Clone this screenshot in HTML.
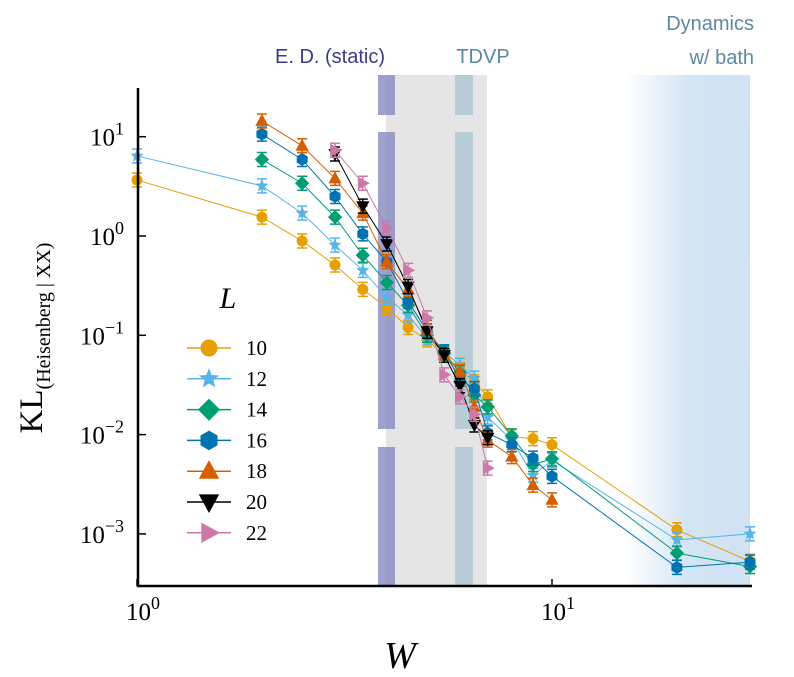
<!DOCTYPE html>
<html><head><meta charset="utf-8"><style>
body{margin:0;background:#fff}
svg{display:block}
.serif{font-family:"Liberation Serif",serif}
.sans{font-family:"Liberation Sans",sans-serif}
</style></head><body>
<svg id="c" width="794" height="677" viewBox="0 0 794 677" xmlns="http://www.w3.org/2000/svg">
<defs>
<linearGradient id="bathg" x1="0" x2="1" y1="0" y2="0">
<stop offset="0" stop-color="#cfe2f3" stop-opacity="0"/>
<stop offset="0.5" stop-color="#cfe2f3" stop-opacity="0.9"/>
<stop offset="1" stop-color="#cfe2f3" stop-opacity="1"/>
</linearGradient>
</defs>
<g id="bg"></g>
<g id="series"></g>
<g id="axes"></g>
<g id="legend"></g>
</svg>
<script>
const NS="http://www.w3.org/2000/svg";
const Ws=[1,2,2.5,3,3.5,4,4.5,5,5.5,6,6.5,7,8,9,10,20,30];
const sizes=[10,12,14,16,18,20,22];
const L10=[3.66,1.55,0.89,0.51,0.29,0.19,0.12,0.09,0.063,0.045,0.034,0.024,0.0095,0.0091,0.0079,0.0011,0.00053];
const L12=[6.4,3.2,1.7,0.81,0.45,0.24,0.16,0.094,0.068,0.05,0.037,0.015,0.0088,0.0039,0.0055,0.00087,0.001];
const L14=[null,5.9,3.4,1.55,0.64,0.34,0.2,0.1,0.066,0.042,0.025,0.019,0.0097,0.005,0.0057,0.00064,0.00047];
const L16=[null,10.6,5.9,2.5,1.05,0.55,0.22,0.11,0.068,0.036,0.029,0.0104,0.0079,0.0058,0.0038,0.00046,0.00052];
const L18=[null,14.4,8.1,3.8,1.7,0.55,0.29,0.12,0.063,0.043,0.019,0.0088,0.006,0.0031,0.0022,null,null];
const L20=[null,null,null,6.7,2.0,0.83,0.31,0.11,0.063,0.031,0.0125,0.0093,null,null,null,null,null];
const L22=[null,null,null,7.3,3.4,1.2,0.45,0.15,0.04,0.024,0.016,0.0046,null,null,null,null,null];
const seriesVals=[L10,L12,L14,L16,L18,L20,L22];
const colors=["#e69f00","#56b4e9","#009e73","#0072b2","#d55e00","#000000","#cc79a7"];
const shapes=["circle","star","diamond","hexagon","up","down","right"];
const yTicks=[10,1,0.1,0.01,0.001];
const yTickLabels=["1","0","−1","−2","−3"];
const xTicks=[1,10];
const xTickLabels=["0","1"];

const X0=137,XD=415,Y0=236,YD=99.3;
const xs=w=>X0+Math.log10(w)*XD;
const ys=v=>Y0-Math.log10(v)*YD;
function el(tag,attrs,parent){const e=document.createElementNS(NS,tag);for(const k in attrs)e.setAttribute(k,attrs[k]);parent.appendChild(e);return e;}
const bg=document.getElementById('bg'),sg=document.getElementById('series'),ax=document.getElementById('axes'),lg=document.getElementById('legend');

let r;
r=el('rect',{x:386,y:75,width:101,height:511,fill:'#e5e5e5'},bg);

r=el('rect',{x:625,y:75,width:125,height:511,fill:'url(#bathg)'},bg);

[[75,115],[132,429],[447,586]].forEach(([a,b])=>{
 let p=el('rect',{x:378,y:a,width:17,height:b-a,fill:'#8d8fc4',opacity:0.85},bg);
 
 let q=el('rect',{x:455,y:a,width:18,height:b-a,fill:'#b8ccd6'},bg);
 
});
function txt(s,a,parent,cls){const t=el('text',a,parent);if(cls)t.setAttribute('class',cls);t.textContent=s;return t;}
let t;
t=txt('E. D. (static)',{x:330,y:63,'font-size':20,fill:'#3a3a8c','text-anchor':'middle'},bg,'sans');

t=txt('TDVP',{x:483,y:63,'font-size':20,fill:'#5a8aa0','text-anchor':'middle'},bg,'sans');

t=txt('Dynamics',{x:754,y:30,'font-size':20,fill:'#5a8aa0','text-anchor':'end'},bg,'sans');

t=txt('w/ bath',{x:754,y:64,'font-size':20,fill:'#5a8aa0','text-anchor':'end'},bg,'sans');


function marker(shape,cx,cy,s,color,parent){
 let m;
 if(shape==='circle')m=el('circle',{cx,cy,r:s},parent);
 else{
  let pts=[];
  if(shape==='diamond')pts=[[0,-1.3],[1.3,0],[0,1.3],[-1.3,0]];
  else if(shape==='hexagon'){for(let i=0;i<6;i++){const a=Math.PI/6+i*Math.PI/3;pts.push([Math.cos(a)*1.15,Math.sin(a)*1.15]);}}
  else if(shape==='up')pts=[[0,-1.3],[1.2,0.9],[-1.2,0.9]];
  else if(shape==='down')pts=[[0,1.3],[1.2,-0.9],[-1.2,-0.9]];
  else if(shape==='right')pts=[[1.3,0],[-0.9,1.2],[-0.9,-1.2]];
  else if(shape==='star'){for(let i=0;i<10;i++){const a=-Math.PI/2+i*Math.PI/5;const rr=i%2?0.55:1.25;pts.push([Math.cos(a)*rr,Math.sin(a)*rr]);}}
  m=el('polygon',{points:pts.map(p=>(cx+p[0]*s).toFixed(1)+','+(cy+p[1]*s).toFixed(1)).join(' ')},parent);
 }
 m.setAttribute('fill',color);
 return m;
}

seriesVals.forEach((vals,si)=>{
 const g=el('g',{},sg);
 
 
 const pts=[];
 vals.forEach((v,i)=>{if(v!=null)pts.push([xs(Ws[i]),ys(v)]);});
 const line=el('polyline',{points:pts.map(p=>p.join(',')).join(' '),fill:'none',stroke:colors[si],'stroke-width':1},g);
 
 
 vals.forEach((v,i)=>{
  if(v==null)return;
  const cx=xs(Ws[i]),cy=ys(v);
  const eb=el('path',{d:`M${cx},${cy-7}V${cy+7}M${cx-5},${cy-7}H${cx+5}M${cx-5},${cy+7}H${cx+5}`,stroke:colors[si],'stroke-width':1.5,fill:'none'},g);
  
  
  const m=marker(shapes[si],cx,cy,5.5,colors[si],g);
  
  
 });
});

let sp=el('path',{d:'M138,88V586H752',stroke:'#000','stroke-width':2.5,fill:'none'},ax);

yTicks.forEach((v,i)=>{
 const y=ys(v);
 const tk=el('line',{x1:138,x2:146,y1:y,y2:y,stroke:'#000','stroke-width':1.5},ax);
 
 const tl=el('text',{x:124,y:y+9,'font-size':25,'text-anchor':'end'},ax);
 tl.setAttribute('class','serif');
 
 tl.textContent='10';
 const sup=el('tspan',{dy:-11,'font-size':18},tl);sup.textContent=yTickLabels[i];
});
xTicks.forEach((w,i)=>{
 const x=xs(w);
 const tk=el('line',{x1:x,x2:x,y1:586,y2:579,stroke:'#000','stroke-width':1.5},ax);
 
 const tl=el('text',{x:x+6,y:620,'font-size':25,'text-anchor':'middle'},ax);
 tl.setAttribute('class','serif');
 
 tl.textContent='10';
 const sup=el('tspan',{dy:-11,'font-size':18},tl);sup.textContent=xTickLabels[i];
});
t=el('text',{x:400,y:668,'font-size':38,'font-style':'italic','text-anchor':'middle'},ax);
t.setAttribute('class','serif');t.textContent='W';

t=el('text',{transform:'translate(42,338) rotate(-90)','font-size':33,'text-anchor':'middle'},ax);
t.setAttribute('class','serif');

t.textContent='KL';
let sub=el('tspan',{dy:8,'font-size':20},t);sub.textContent='(Heisenberg | XX)';

t=el('text',{x:228,y:308,'font-size':30,'font-style':'italic','text-anchor':'middle'},lg);
t.setAttribute('class','serif');t.textContent='L';

sizes.forEach((s,i)=>{
 const y=348+i*30.8;
 const g=el('g',{},lg);
 
 
 el('line',{x1:187,x2:231,y1:y,y2:y,stroke:colors[i],'stroke-width':1.5},g);
 marker(shapes[i],209,y,8.5,colors[i],g);
 const tl=el('text',{x:246,y:y+7,'font-size':21},g);
 tl.setAttribute('class','serif');tl.textContent=s;
});
</script>
</body></html>
